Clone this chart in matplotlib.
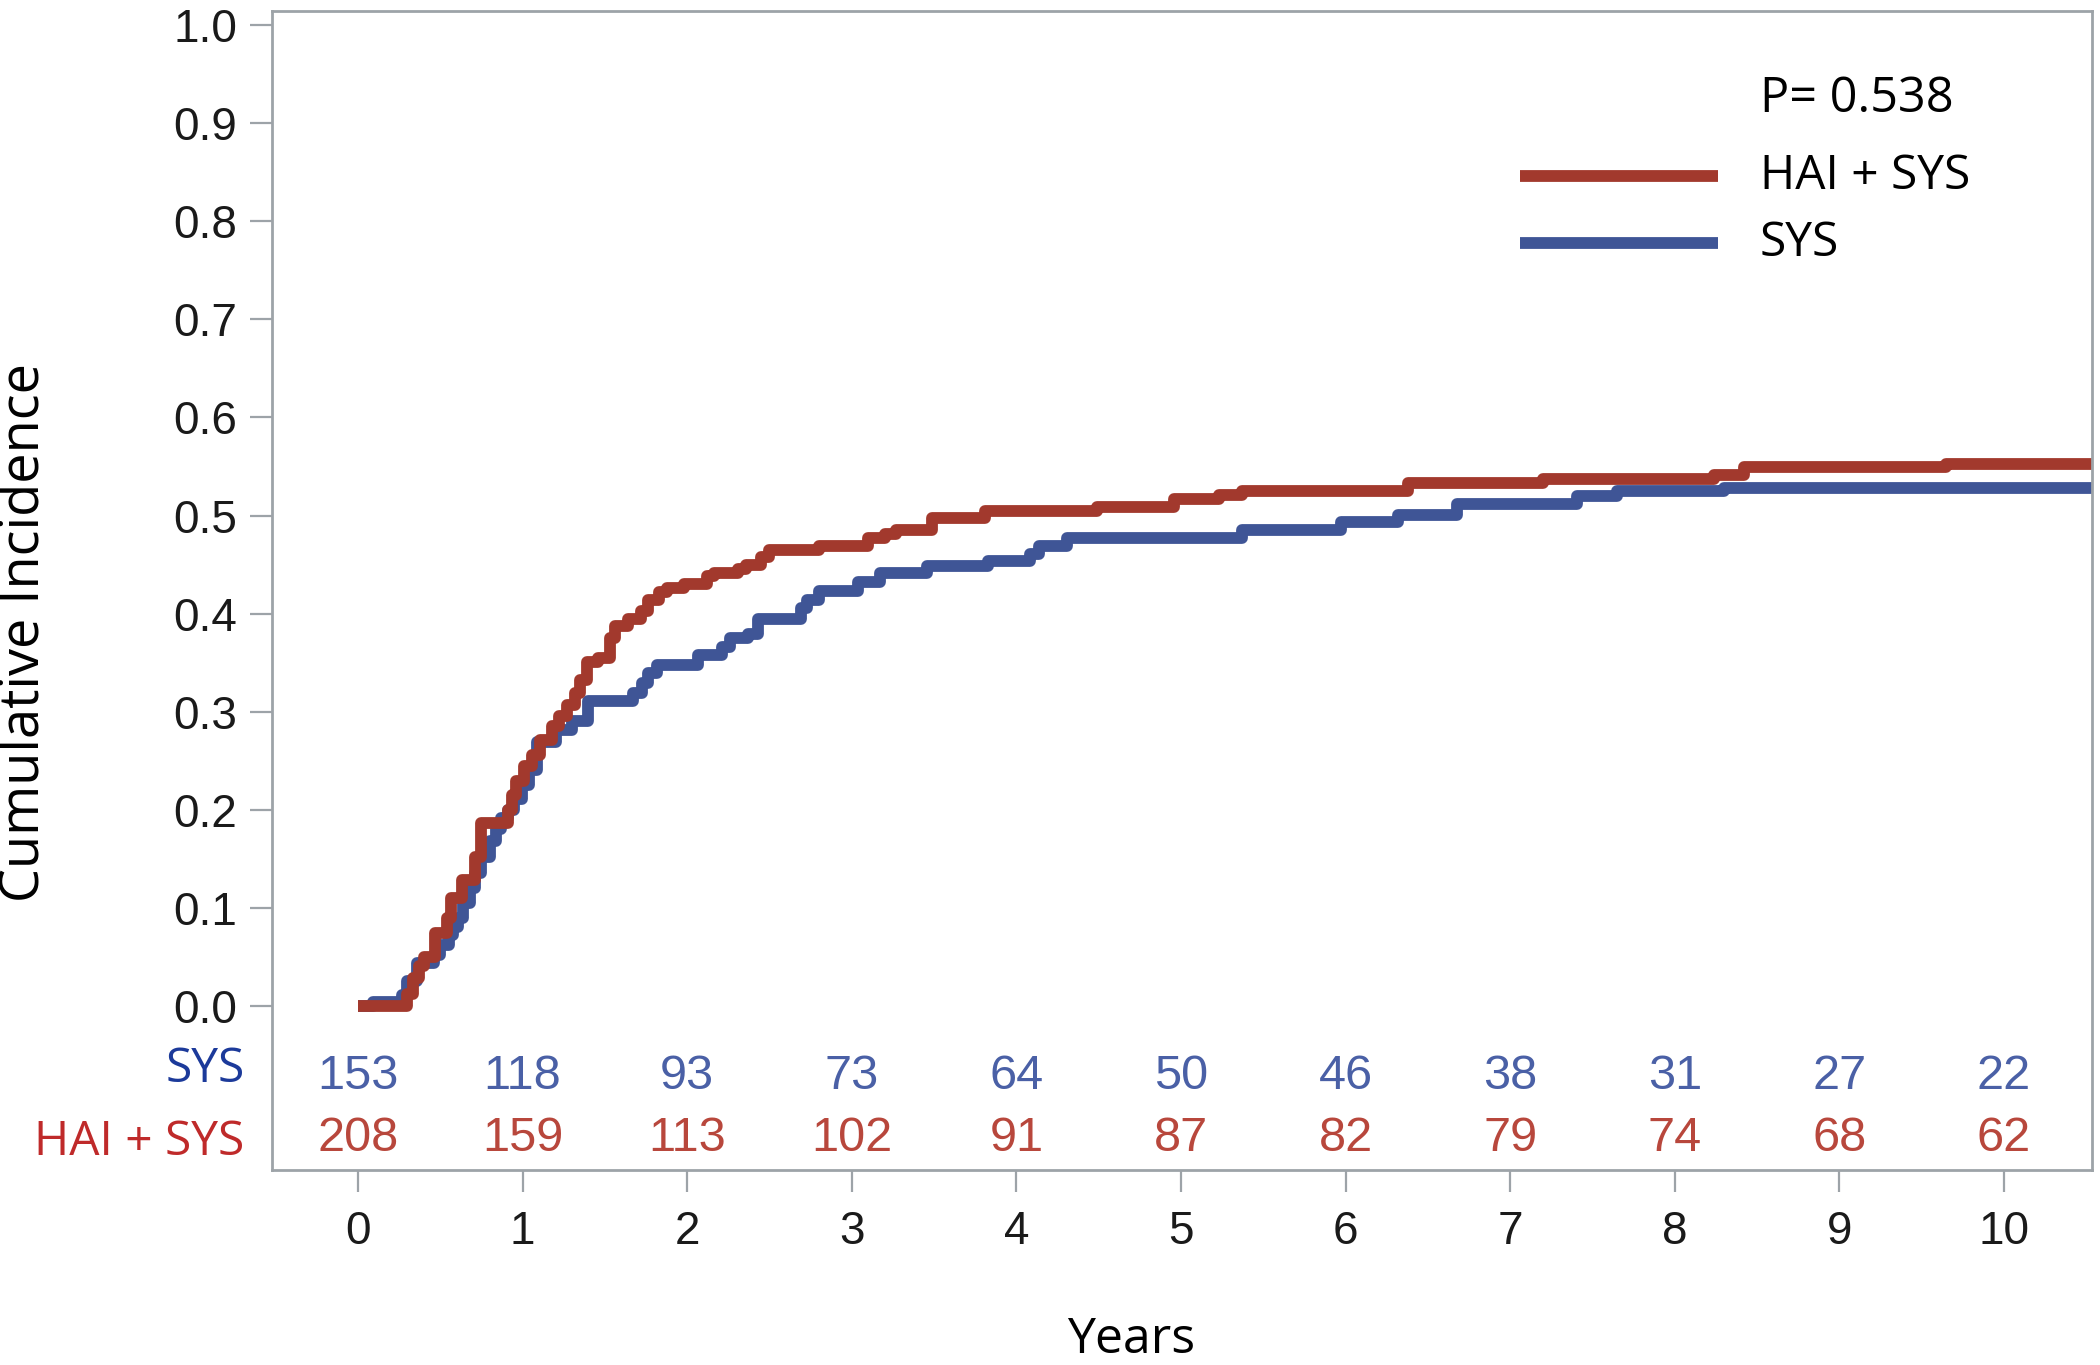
import matplotlib
matplotlib.use("Agg")
import matplotlib.pyplot as plt

# cumulative incidence, step times (years) and values
hai_t = [0, 0.30, 0.336, 0.37, 0.40, 0.47, 0.54, 0.565, 0.63, 0.71, 0.75, 0.91, 0.935,
         0.96, 1.01, 1.055, 1.105, 1.18, 1.22, 1.27, 1.32, 1.35, 1.39, 1.46, 1.53, 1.56,
         1.64, 1.72, 1.76, 1.83, 1.88, 1.98, 2.12, 2.16, 2.31, 2.36, 2.45, 2.50, 2.80,
         3.10, 3.20, 3.27, 3.49, 3.81, 4.49, 4.96, 5.23, 5.37, 6.38, 7.20, 8.24, 8.42, 9.65]
hai_v = [0, 0.012, 0.028, 0.040, 0.050, 0.074, 0.089, 0.110, 0.128, 0.152, 0.186, 0.200, 0.215,
         0.229, 0.244, 0.256, 0.271, 0.285, 0.295, 0.307, 0.319, 0.332, 0.351, 0.355, 0.375, 0.387,
         0.394, 0.403, 0.414, 0.422, 0.426, 0.430, 0.438, 0.441, 0.445, 0.450, 0.458, 0.465, 0.469,
         0.477, 0.481, 0.485, 0.497, 0.505, 0.509, 0.517, 0.521, 0.525, 0.533, 0.537, 0.541, 0.549, 0.553]

sys_t = [0, 0.09, 0.265, 0.30, 0.356, 0.46, 0.50, 0.55, 0.58, 0.61, 0.64, 0.68, 0.71, 0.75,
         0.80, 0.84, 0.87, 0.913, 0.95, 0.994, 1.04, 1.086, 1.20, 1.298, 1.40, 1.673, 1.724,
         1.764, 1.815, 2.068, 2.21, 2.26, 2.37, 2.43, 2.69, 2.73, 2.80, 3.036, 3.17, 3.455,
         3.83, 4.08, 4.14, 4.31, 5.37, 5.97, 6.32, 6.68, 7.405, 7.65, 8.30]
sys_v = [0, 0.004, 0.011, 0.025, 0.043, 0.052, 0.062, 0.072, 0.080, 0.089, 0.105, 0.120, 0.135, 0.152,
         0.168, 0.180, 0.191, 0.200, 0.211, 0.225, 0.240, 0.269, 0.281, 0.290, 0.311, 0.319, 0.329,
         0.339, 0.347, 0.358, 0.366, 0.375, 0.379, 0.394, 0.406, 0.414, 0.423, 0.432, 0.441, 0.449,
         0.454, 0.461, 0.469, 0.477, 0.485, 0.493, 0.501, 0.512, 0.520, 0.525, 0.528]

# numbers at risk
years = [0, 1, 2, 3, 4, 5, 6, 7, 8, 9, 10]
sys_risk = [153, 118, 93, 73, 64, 50, 46, 38, 31, 27, 22]
hai_risk = [208, 159, 113, 102, 91, 87, 82, 79, 74, 68, 62]

t_end = 10.6
red = '#A2392D'
blue = '#3F5596'
grey = '#9DA3A8'

fig = plt.figure(figsize=(21, 13.65), dpi=100)
ax = fig.add_axes([272/2100, 1-1170/1365, 1820/2100, 1159.3/1365])

ax.step(sys_t + [t_end], sys_v + [sys_v[-1]], where='post', color=blue, lw=8.5, solid_capstyle='butt')
ax.step(hai_t + [t_end], hai_v + [hai_v[-1]], where='post', color=red, lw=8.5, solid_capstyle='butt')

ax.set_xlim(-0.5225, 10.535)
ax.set_ylim(-0.1677, 1.015)

yt = [i/10 for i in range(11)]
ax.set_yticks(yt)
ax.set_yticklabels(['%.1f' % v for v in yt], fontsize=33, family='Liberation Sans', color='#1a1a1a')
ax.set_xticks(years)
ax.set_xticklabels([str(y) for y in years], fontsize=33, family='Liberation Sans', color='#1a1a1a')
ax.tick_params(axis='y', length=16, width=1.6, color=grey, pad=9)
ax.tick_params(axis='x', length=16, width=1.6, color=grey, pad=13)
for s in ax.spines.values():
    s.set_color(grey)
    s.set_linewidth(2)

# at-risk table inside the frame
for x, a, b in zip(years, sys_risk, hai_risk):
    ax.text(x, -0.072, str(a), color='#4A60A6', fontsize=35, family='Liberation Sans',
            ha='center', va='center')
    ax.text(x, -0.136, str(b), color='#B8473C', fontsize=35, family='Liberation Sans',
            ha='center', va='center')
ax.text(-0.015, -0.065, 'SYS', transform=ax.get_yaxis_transform(), color='#1C3A9A',
        fontsize=34.5, family='Open Sans', ha='right', va='center')
ax.text(-0.015, -0.139, 'HAI + SYS', transform=ax.get_yaxis_transform(), color='#BF2A2A',
        fontsize=34.5, family='Open Sans', ha='right', va='center')

# legend
ax.plot([0.6857, 0.7945], [0.8574, 0.8574], transform=ax.transAxes, color=red, lw=8.5, solid_capstyle='butt')
ax.plot([0.6857, 0.7945], [0.7996, 0.7996], transform=ax.transAxes, color=blue, lw=8.5, solid_capstyle='butt')
ax.text(0.8176, 0.9240, 'P= 0.538', transform=ax.transAxes, fontsize=35, family='Open Sans', va='center')
ax.text(0.8176, 0.8574, 'HAI + SYS', transform=ax.transAxes, fontsize=34.5, family='Open Sans', va='center')
ax.text(0.8176, 0.7996, 'SYS', transform=ax.transAxes, fontsize=34.5, family='Open Sans', va='center')

fig.text(24/2100, 1-633/1365, 'Cumulative Incidence', rotation=90, fontsize=39,
         family='Open Sans', ha='center', va='center')
fig.text(1131/2100, 1-1340/1365, 'Years', fontsize=36, family='Open Sans', ha='center', va='center')

fig.savefig('out.png', dpi=100)
